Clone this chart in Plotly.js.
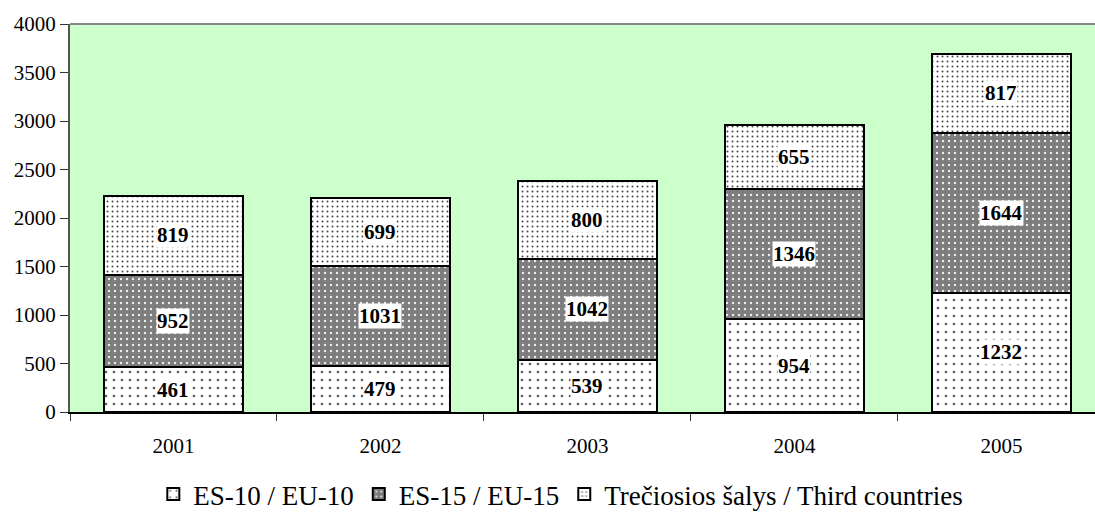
<!DOCTYPE html>
<html>
<head>
<meta charset="utf-8">
<script src="https://cdn.plot.ly/plotly-3.0.1.min.js"></script>
<style>
  body { margin: 0; background: white; }
  #chart { width: 1095px; height: 519px; }
</style>
</head>
<body>
<div id="chart"></div>
<script>
// Years and series values
const years = ['2001', '2002', '2003', '2004', '2005'];
const eu10 = [461, 479, 539, 954, 1232];
const eu15 = [952, 1031, 1042, 1346, 1644];
const third = [819, 699, 800, 655, 817];
const seriesNames = ['ES-10 / EU-10', 'ES-15 / EU-15', 'Trečiosios šalys / Third countries'];

const serif = 'Liberation Serif';

function barTrace(name, values, bg, fg, size, solidity) {
    return {
        type: 'bar',
        name: name,
        x: years,
        y: values,
        marker: {
            color: bg,
            line: { color: '#000000', width: 2 },
            pattern: { shape: '.', bgcolor: bg, fgcolor: fg, size: size, solidity: solidity }
        },
        hoverinfo: 'name+y'
    };
}

const traces = [
    barTrace(seriesNames[0], eu10, '#ffffff', '#555555', 8, 0.08),
    barTrace(seriesNames[1], eu15, '#7d7d7d', '#eeeeee', 6, 0.12),
    barTrace(seriesNames[2], third, '#ffffff', '#444444', 5, 0.12)
];

// Value labels centred on each segment, white box behind
const annotations = [];
years.forEach((yr, i) => {
    const stack = [eu10[i], eu15[i], third[i]];
    let base = 0;
    stack.forEach(v => {
        annotations.push({
            x: i, y: base + v / 2, xref: 'x', yref: 'y',
            text: '<b>' + v + '</b>', showarrow: false,
            bgcolor: '#ffffff', borderpad: 0,
            font: { family: serif, size: 21, color: '#000000' }
        });
        base += v;
    });
});

const layout = {
    width: 1095,
    height: 519,
    barmode: 'stack',
    bargap: 0.33,
    paper_bgcolor: '#ffffff',
    plot_bgcolor: '#ccffcc',
    margin: { l: 70, r: 0, t: 24, b: 107 },
    font: { family: serif, size: 20, color: '#000000' },
    xaxis: {
        type: 'category',
        range: [-0.5, 4.452],
        showline: true, linecolor: '#000000', linewidth: 2,
        ticks: 'outside', tickson: 'boundaries', ticklen: 7, tickcolor: '#333333',
        ticklabelstandoff: 14,
        tickfont: { family: serif, size: 21 },
        showgrid: false, mirror: false
    },
    yaxis: {
        range: [0, 4000], dtick: 500,
        showline: true, linecolor: '#555555', linewidth: 2,
        ticks: 'outside', ticklen: 8, tickcolor: '#333333',
        tickfont: { family: serif, size: 21 },
        showgrid: false, zeroline: false
    },
    shapes: [
        { type: 'line', xref: 'paper', yref: 'paper', x0: 0, x1: 1, y0: 1, y1: 1,
          line: { color: '#888888', width: 2 } }
    ],
    annotations: annotations,
    legend: {
        orientation: 'h',
        xref: 'container', x: 0.14, xanchor: 'left',
        yref: 'container', y: 0.0, yanchor: 'bottom',
        font: { family: serif, size: 27 },
        traceorder: 'normal', itemwidth: 30
    },
    showlegend: true
};

Plotly.newPlot('chart', traces, layout, { displayModeBar: false });
</script>
</body>
</html>
